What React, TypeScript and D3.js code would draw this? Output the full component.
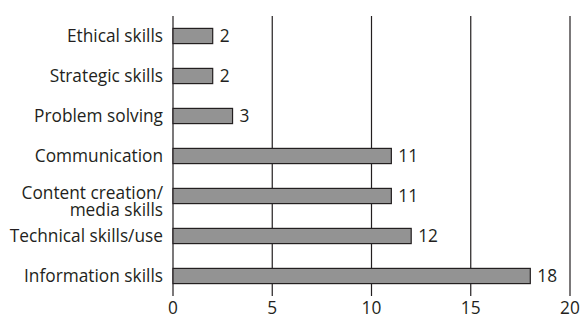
import React, { useEffect, useRef } from 'react';
import * as d3 from 'd3';

const categories = [
  'Ethical skills',
  'Strategic skills',
  'Problem solving',
  'Communication',
  'Content creation/\nmedia skills',
  'Technical skills/use',
  'Information skills',
];
const values = [2, 2, 3, 11, 11, 12, 18];
const xTicks = [0, 5, 10, 15, 20];

const width = 584;
const height = 318;
const margin = { top: 16, right: 14, bottom: 22, left: 173 };
const font = '"Open Sans", sans-serif';
const fontSize = 17.3;

const App = () => {
  const svgRef = useRef<SVGSVGElement>(null);

  useEffect(() => {
    const svg = d3.select(svgRef.current);
    svg.selectAll('*').remove();

    const x = d3.scaleLinear()
      .domain([0, 20])
      .range([margin.left, width - margin.right]);

    const y = d3.scaleBand()
      .domain(categories)
      .range([margin.top, height - margin.bottom])
      .paddingInner(0.62)
      .paddingOuter(0.31);

    const ink = '#231f20';

    // vertical grid lines, the 0 one is the axis
    svg.append('g')
      .selectAll('line')
      .data(xTicks)
      .enter().append('line')
      .attr('x1', d => x(d))
      .attr('x2', d => x(d))
      .attr('y1', margin.top)
      .attr('y2', height - margin.bottom)
      .attr('stroke', ink)
      .attr('stroke-width', 1.2);

    // tick labels
    svg.append('g')
      .selectAll('text')
      .data(xTicks)
      .enter().append('text')
      .attr('x', d => x(d))
      .attr('y', height - 4)
      .attr('text-anchor', 'middle')
      .attr('font-family', font)
      .attr('font-size', fontSize)
      .attr('fill', ink)
      .text(d => d);

    const rows = categories.map((c, i) => ({ category: c, value: values[i] }));

    svg.append('g')
      .selectAll('rect')
      .data(rows)
      .enter().append('rect')
      .attr('x', x(0))
      .attr('y', d => y(d.category)!)
      .attr('width', d => x(d.value) - x(0))
      .attr('height', y.bandwidth())
      .attr('fill', '#939393')
      .attr('stroke', ink)
      .attr('stroke-width', 1.2);

    // value labels
    svg.append('g')
      .selectAll('text')
      .data(rows)
      .enter().append('text')
      .attr('x', d => x(d.value) + 7)
      .attr('y', d => y(d.category)! + y.bandwidth() / 2)
      .attr('dy', '0.35em')
      .attr('font-family', font)
      .attr('font-size', fontSize)
      .attr('fill', ink)
      .text(d => d.value);

    // category labels
    const labels = svg.append('g')
      .selectAll('text')
      .data(rows)
      .enter().append('text')
      .attr('text-anchor', 'end')
      .attr('font-family', font)
      .attr('font-size', fontSize)
      .attr('fill', ink);

    labels.each(function (d) {
      const lines = d.category.split('\n');
      const cy = y(d.category)! + y.bandwidth() / 2;
      const t = d3.select(this);
      lines.forEach((ln, i) => {
        t.append('tspan')
          .attr('x', margin.left - 10)
          .attr('y', cy + i * 17 - (lines.length > 1 ? 3 : 0))
          .attr('dy', '0.35em')
          .text(ln);
      });
    });
  }, []);

  return (
    <svg
      ref={svgRef}
      width={width}
      height={height}
      style={{ position: 'absolute', left: 0, top: 0, background: '#fff' }}
    />
  );
};

export default App;
